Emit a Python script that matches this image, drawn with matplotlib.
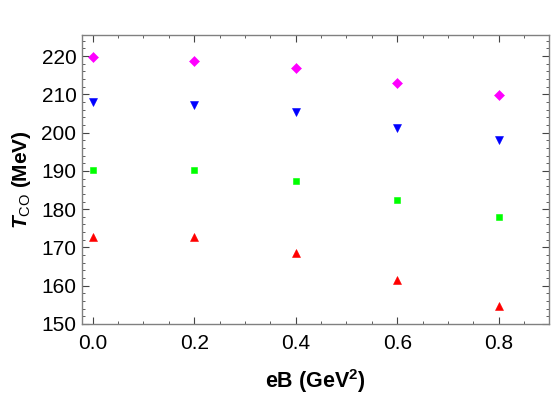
import matplotlib
matplotlib.use("Agg")
import matplotlib.pyplot as plt
from matplotlib.ticker import MultipleLocator, FormatStrFormatter

plt.rcParams['font.family'] = ['Liberation Sans', 'DejaVu Sans']
plt.rcParams['mathtext.fontset'] = 'custom'
plt.rcParams['mathtext.rm'] = 'Liberation Sans'
plt.rcParams['mathtext.it'] = 'Liberation Sans:italic:bold'
plt.rcParams['mathtext.bf'] = 'Liberation Sans:bold'

eB = [0.0, 0.2, 0.4, 0.6, 0.8]
t_magenta = [219.7, 218.7, 217.0, 213.0, 209.9]
t_blue = [208.1, 207.2, 205.3, 201.2, 198.0]
t_green = [190.2, 190.2, 187.3, 182.3, 178.0]
t_red = [172.7, 172.7, 168.6, 161.6, 154.6]

fig = plt.figure(figsize=(5.55, 3.99), dpi=100)
ax = fig.add_axes([82/555, 1 - 324/399, (549-82)/555, (324-35)/399])

ax.plot(eB, t_magenta, 'D', color='#ff00ff', markersize=4.8, mew=0.4, linestyle='none')
ax.plot(eB, t_blue, 'v', color='#0000ff', markersize=6.0, mew=0.4, linestyle='none')
ax.plot(eB, t_green, 's', color='#00ff00', markersize=4.6, mew=0.4, linestyle='none')
ax.plot(eB, t_red, '^', color='#ff0000', markersize=6.0, mew=0.4, linestyle='none')

ax.set_xlim(-0.021, 0.899)
ax.set_ylim(150, 225.5)
ax.xaxis.set_major_locator(MultipleLocator(0.2))
ax.xaxis.set_minor_locator(MultipleLocator(0.05))
ax.yaxis.set_major_locator(MultipleLocator(10))
ax.yaxis.set_minor_locator(MultipleLocator(2))
ax.xaxis.set_major_formatter(FormatStrFormatter('%.1f'))

for s in ax.spines.values():
    s.set_color('#808080')
    s.set_linewidth(1.0)
ax.tick_params(which='both', direction='in', top=True, right=True, color='#444444', labelsize=15)
ax.tick_params(which='major', length=5, width=0.8)
ax.tick_params(which='minor', length=2.5, width=0.6)
ax.tick_params(axis='x', pad=7)
ax.tick_params(axis='y', pad=4)

ax.set_xlabel(r'eB (GeV$^\mathbf{2}$)', fontsize=15.5, fontweight='bold', labelpad=10)
ax.set_ylabel(r'$T_{\mathrm{CO}}$ (MeV)', fontsize=15, fontweight='bold', labelpad=6)

plt.savefig("out.png", dpi=100)
plt.close()
